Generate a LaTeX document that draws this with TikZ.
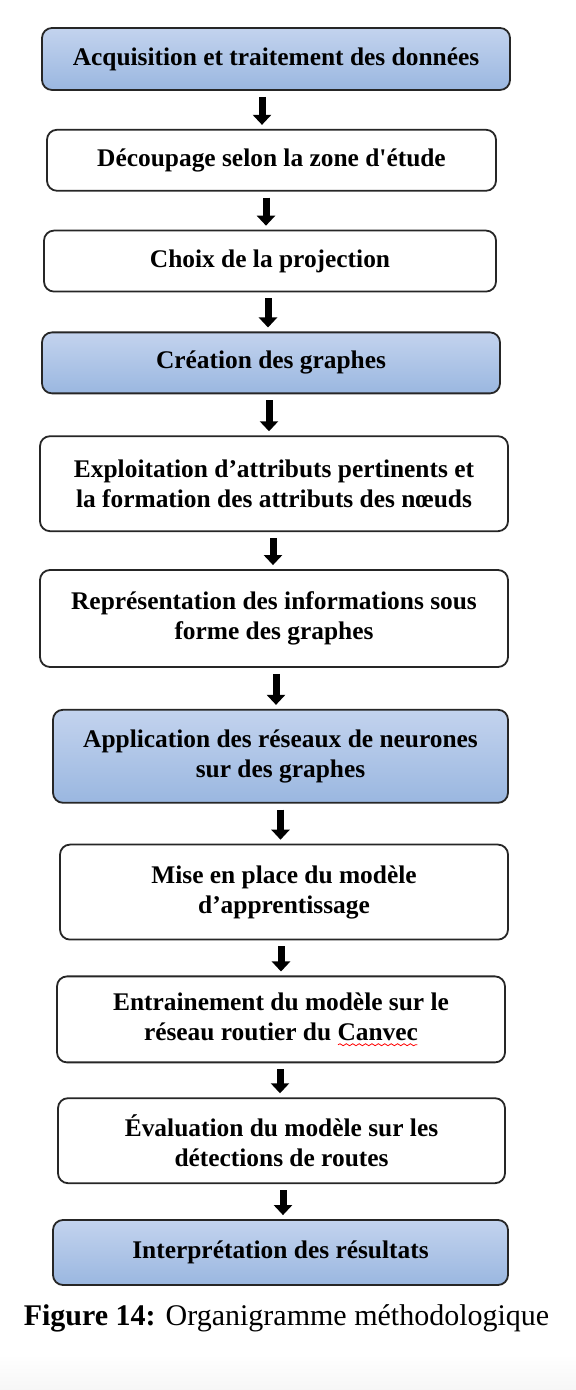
\documentclass[tikz,border=0pt]{standalone}
\usepackage{fontspec}
\setmainfont{Liberation Serif}[Ligatures=TeXOff]
\usetikzlibrary{arrows.meta, positioning, decorations.pathmorphing}

\definecolor{boxtop}{HTML}{C3D3EE}
\definecolor{boxbot}{HTML}{9AB7E0}
\newcommand\boxfont{\fontsize{12.7pt}{15pt}\selectfont\bfseries}
% red spell-check wave under a word
\newcommand\spellwave[1]{\setbox0\hbox{#1}\rlap{\tikz[baseline=0pt]\draw[red, sharp corners, fill=none, line width=0.4pt, decorate, decoration={snake, amplitude=0.5pt, segment length=3.2pt}] (0.5pt,-2.2pt) -- (\wd0,-2.2pt);}#1}

\begin{document}
\begin{tikzpicture}[
  x=0.5pt, y=0.5pt,
  node distance=20pt,
  phase/.style={rectangle, rounded corners=5pt, draw=black!85, line width=0.9pt, top color=boxtop, bottom color=boxbot, align=center, inner sep=2pt, font=\boxfont},
  task/.style ={rectangle, rounded corners=5pt, draw=black!85, line width=0.9pt, fill=white, align=center, inner sep=2pt, font=\boxfont},
  arr/.style  ={-{Triangle[width=9pt,length=5pt]}, line width=3.5pt, draw=black, shorten <=3pt, shorten >=2pt}
]
\useasboundingbox (0,0) rectangle (576,1390);
\fill[white] (0,0) rectangle (576,1390);
\shade[top color=white, bottom color=gray!7] (0,0) rectangle (576,35);

% ---- data preparation ----
\node[phase, minimum width=234pt, minimum height=31pt] (acq) at (276,1331) {Acquisition et traitement des données};
\node[task, minimum width=224.5pt, minimum height=30.5pt] (dec) [below=19pt of acq, xshift=-2.25pt] {Découpage selon la zone d'étude};
\node[task, minimum width=226pt, minimum height=30.5pt] (proj) [below=19pt of dec, xshift=-0.75pt] {Choix de la projection};

% ---- graph building ----
\node[phase, minimum width=229pt, minimum height=30.5pt] (graph) [below=19.5pt of proj, xshift=0.5pt] {Création des graphes};
\node[task, minimum width=234pt, minimum height=47.5pt] (attr) [below=20.5pt of graph, xshift=1.5pt] {Exploitation d’attributs pertinents et\\la formation des attributs des nœuds};
\node[task, minimum width=234pt, minimum height=48.5pt] (repr) [below=18.5pt of attr] {Représentation des informations sous\\forme des graphes};

% ---- learning ----
\node[phase, minimum width=227.5pt, minimum height=46.5pt] (gnn) [below=20.5pt of repr, xshift=3.25pt] {Application des réseaux de neurones\\sur des graphes};
\node[task, minimum width=224pt, minimum height=47.5pt] (model) [below=20pt of gnn, xshift=1.75pt] {Mise en place du modèle\\d’apprentissage};
\node[task, minimum width=224pt, minimum height=43pt] (train) [below=17.5pt of model, xshift=-1.5pt] {Entrainement du modèle sur le\\réseau routier du \spellwave{Canvec}};
\node[task, minimum width=223.5pt, minimum height=42.5pt] (eval) [below=17pt of train, xshift=0.25pt] {Évaluation du modèle sur les\\détections de routes};
\node[phase, minimum width=227.5pt, minimum height=32.5pt] (interp) [below=17.5pt of eval, xshift=-0.5pt] {Interprétation des résultats};

% ---- caption ----
\node[font=\fontsize{15pt}{18pt}\selectfont, inner sep=0pt] (cap) [below=9pt of interp, xshift=3pt] {\textbf{Figure 14:} Organigramme méthodologique};

% ---- edges ----
\draw[arr] ([xshift=-7pt]acq.south)     -- ([xshift=-7pt]acq.south |- dec.north);
\draw[arr] ([xshift=-2.75pt]dec.south)  -- ([xshift=-2.75pt]dec.south |- proj.north);
\draw[arr] ([xshift=-1pt]proj.south)    -- ([xshift=-1pt]proj.south |- graph.north);
\draw[arr] ([xshift=-1pt]graph.south)   -- ([xshift=-1pt]graph.south |- attr.north);
\draw[arr] ([xshift=-0.5pt]attr.south)  -- ([xshift=-0.5pt]attr.south |- repr.north);
\draw[arr] ([xshift=1pt]repr.south)     -- ([xshift=1pt]repr.south |- gnn.north);
\draw[arr] (gnn.south)                  -- (gnn.south |- model.north);
\draw[arr] ([xshift=-1.5pt]model.south) -- ([xshift=-1.5pt]model.south |- train.north);
\draw[arr] ([xshift=-0.5pt]train.south) -- ([xshift=-0.5pt]train.south |- eval.north);
\draw[arr] ([xshift=0.75pt]eval.south)  -- ([xshift=0.75pt]eval.south |- interp.north);

\end{tikzpicture}
\end{document}
